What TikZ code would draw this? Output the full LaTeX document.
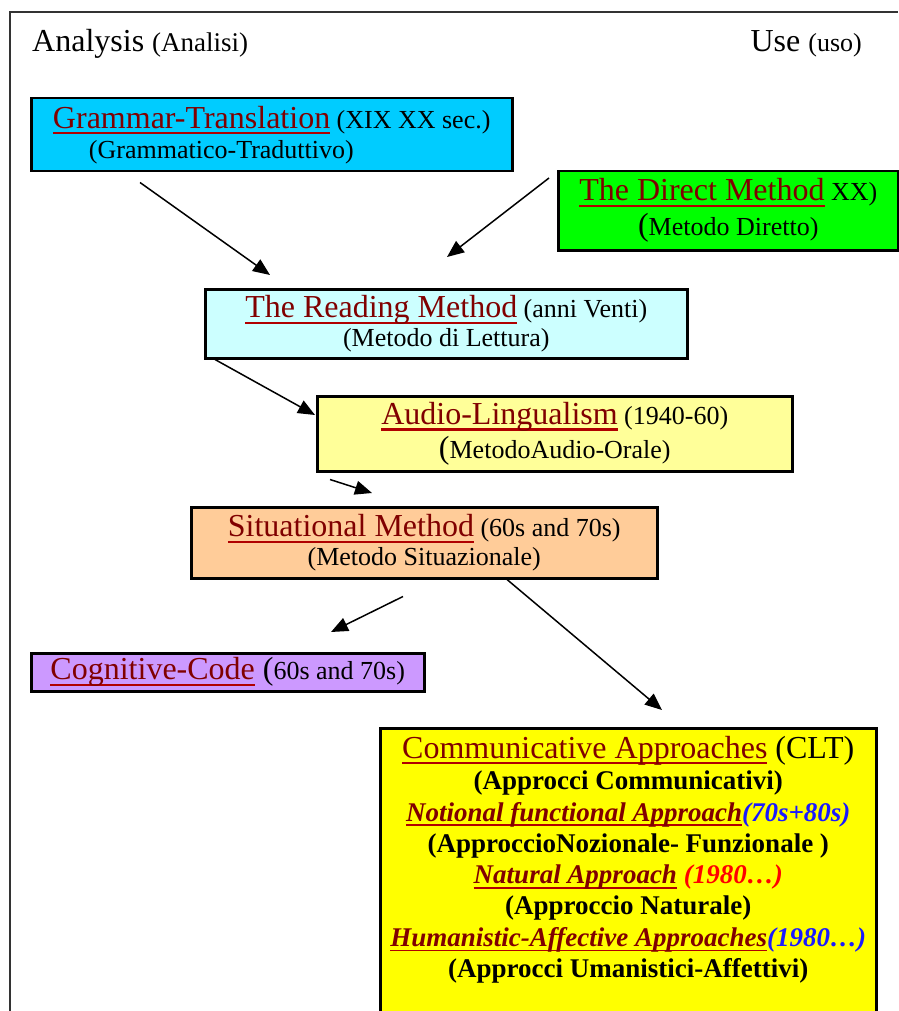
\documentclass[tikz,border=0pt]{standalone}
\usepackage{fontspec}
\setmainfont{Liberation Serif}
\usetikzlibrary{arrows.meta,calc}

\definecolor{linkred}{HTML}{800000}
\definecolor{linkline}{HTML}{B00000}
\definecolor{gtcol}{HTML}{00CCFF}
\definecolor{dmcol}{HTML}{00FF00}
\definecolor{rmcol}{HTML}{CCFFFF}
\definecolor{alcol}{HTML}{FFFF99}
\definecolor{smcol}{HTML}{FFCC99}
\definecolor{cccol}{HTML}{CC99FF}
\definecolor{cacol}{HTML}{FFFF00}
\definecolor{yearblue}{HTML}{1A1AFF}
\definecolor{yearred}{HTML}{FF0000}

\newcommand\bigf{\fontsize{32}{36}\selectfont}
\newcommand\smf{\fontsize{26}{30}\selectfont}
\newsavebox\linkbox
\newcommand\mlink[1]{\setbox\linkbox=\hbox{\textcolor{linkred}{#1}}\textcolor{linkline}{\rlap{\rule[-0.19em]{\wd\linkbox}{0.065em}}}\usebox\linkbox}

\begin{document}
\begin{tikzpicture}[x=1pt,y=-1pt,
		method/.style={draw, rectangle, line width=2.5pt, inner sep=2pt, anchor=north west, align=center, font=\smf},
		arr/.style={line width=1.5pt, -{Triangle[length=17pt,width=14pt]}}]
	\useasboundingbox (0,0) rectangle (898,1011);
	% frame
	\draw[line width=2pt, black!80] (10,1011) -- (10,12) -- (898,12);
	\node[anchor=base west, inner sep=0] (ana) at (32,52) {\bigf Analysis {\fontsize{27}{30}\selectfont(Analisi)}};
	\node[anchor=base east, inner sep=0] (use) at (862,52) {\bigf Use {\smf(uso)}};
	% methods
	\node[method, fill=gtcol, minimum width=481, minimum height=73, align=left] (gt) at (30,97) {{\bigf\mlink{Grammar-Translation}} (XIX XX sec.)\\\hspace*{36pt}(Grammatico-Traduttivo)};
	\node[method, fill=dmcol, minimum width=340, minimum height=79, font=\fontsize{26}{35}\selectfont] (dm) at (557,170) {{\bigf\mlink{The Direct Method}} XX)\\{\bigf(}Metodo Diretto)};
	\node[method, fill=rmcol, minimum width=482, minimum height=69, font=\fontsize{26}{29}\selectfont] (rm) at (204,288) {{\bigf\mlink{The Reading Method}} (anni Venti)\\(Metodo di Lettura)};
	\node[method, fill=alcol, minimum width=475, minimum height=75, font=\fontsize{26}{34}\selectfont] (al) at (316,395) {{\bigf\mlink{Audio-Lingualism}} (1940-60)\\{\bigf(}MetodoAudio-Orale)};
	\node[method, fill=smcol, minimum width=466, minimum height=71, font=\fontsize{26}{29}\selectfont] (sm) at (190,506) {{\bigf\mlink{Situational Method}} (60s and 70s)\\(Metodo Situazionale)};
	\node[method, fill=cccol, minimum width=393, minimum height=38] (cc) at (30,652) {{\bigf\mlink{Cognitive-Code} (}60s and 70s)};
	\node[method, fill=cacol, minimum width=496, minimum height=320] (ca) at (379,727) {};
	\node[anchor=north, align=center, inner sep=0, font=\fontsize{27}{31.3}\selectfont\bfseries] (catext) at ($(ca.north)+(0,9)$) {%
		{\mdseries\bigf\mlink{Communicative Approaches} (CLT)}\\
		(Approcci Communicativi)\\
		{\itshape\mlink{Notional functional Approach}\textcolor{yearblue}{(70s+80s)}}\\
		(ApproccioNozionale- Funzionale )\\
		{\itshape\mlink{Natural Approach} \textcolor{yearred}{(1980\ldots)}}\\
		(Approccio Naturale)\\
		{\itshape\mlink{Humanistic-Affective Approaches}\textcolor{yearblue}{(1980\ldots)}}\\
		(Approcci Umanistici-Affettivi)};
	% arrows
	\draw[arr] ($(gt.south west)+(110,10)$) -- ($(rm.north west)+(66,-13)$);
	\draw[arr] ($(dm.north west)+(-8,8)$) -- ($(rm.north west)+(243,-31)$);
	\draw[arr] ($(rm.south west)+(11,0)$) -- ($(al.north west)+(-1,20)$);
	\draw[arr] ($(al.south west)+(14,7)$) -- ($(sm.north west)+(182,-13)$);
	\draw[arr] ($(sm.south west)+(213,17)$) -- ($(cc.north west)+(301,-20)$);
	\draw[arr] ($(sm.south west)+(317,0)$) -- ($(ca.north west)+(283,-17)$);
\end{tikzpicture}
\end{document}
